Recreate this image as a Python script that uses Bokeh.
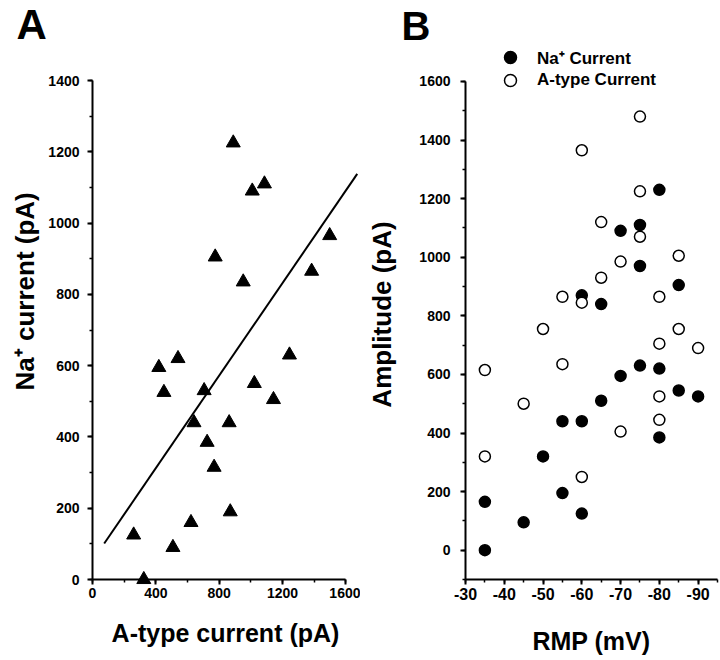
from bokeh.plotting import figure
from bokeh.layouts import row
from bokeh.models import Range1d, SingleIntervalTicker, Legend, LegendItem, Title
from bokeh.embed import file_html
from bokeh.resources import INLINE

FONT = "Liberation Sans"

# ---------------- Panel A data ----------------
a_type_current = [889, 1009, 1086, 1498, 775, 952, 1384, 419, 540, 451, 705, 641,
                  863, 724, 768, 870, 622, 260, 508, 324, 1022, 1143, 1244]
na_current = [1225, 1090, 1110, 965, 905, 835, 865, 595, 620, 525, 530, 440,
              440, 385, 315, 190, 160, 125, 90, 0, 550, 505, 630]
fit_x = [74, 1672]
fit_y = [101, 1138]

# ---------------- Panel B data ----------------
na_rmp = [-80, -70, -75, -75, -60, -65, -85, -75, -80, -70, -85, -90, -65, -55,
          -60, -80, -50, -35, -55, -45, -60, -35]
na_amp = [1230, 1090, 1110, 970, 870, 840, 905, 630, 620, 595, 545, 525, 510, 440,
          440, 385, 320, 165, 195, 95, 125, 0]
a_rmp = [-75, -60, -75, -65, -75, -70, -85, -65, -55, -60, -80, -50, -85, -80,
         -90, -35, -55, -45, -80, -80, -70, -35, -60]
a_amp = [1480, 1365, 1225, 1120, 1070, 985, 1005, 930, 865, 845, 865, 755, 755, 705,
         690, 615, 635, 500, 525, 445, 405, 320, 250]

rmp_ticks = [-30, -40, -50, -60, -70, -80, -90]
rmp_tick_labels = ["-30", "-40", "-50", "-60", "-70", "-80", "-90"]


def style_axes(p, xlab_size, ylab_size):
    for ax in (p.xaxis[0], p.yaxis[0]):
        ax.axis_line_width = 2
        ax.axis_line_color = "black"
        ax.major_tick_line_width = 2
        ax.major_tick_line_color = "black"
        ax.minor_tick_line_width = 1.5
        ax.minor_tick_line_color = "black"
        ax.major_tick_in = 0
        ax.major_tick_out = 5
        ax.minor_tick_in = 0
        ax.minor_tick_out = 3
        ax.major_label_text_font = FONT
        ax.major_label_text_font_style = "bold"
        ax.major_label_text_color = "black"
        ax.axis_label_text_font = FONT
        ax.axis_label_text_font_style = "bold"
        ax.axis_label_text_font_size = "25px"
        ax.axis_label_text_color = "black"
    p.xaxis[0].major_label_text_font_size = xlab_size
    p.yaxis[0].major_label_text_font_size = ylab_size
    p.xgrid.visible = False
    p.ygrid.visible = False
    p.outline_line_color = None


def panel_title(text, size, offset, standoff, valign="top", align="left"):
    return Title(text=text, align=align, offset=offset, standoff=standoff,
                 vertical_align=valign,
                 text_font=FONT, text_font_style="bold", text_font_size=size,
                 text_color="black")


# ---------------- Panel A ----------------
pa = figure(width=360, height=660, x_range=Range1d(0, 1680), y_range=Range1d(0, 1487),
            output_backend="svg", toolbar_location=None,
            title=panel_title("A", "42px", -76, 0),
            min_border_left=92, min_border_right=2, min_border_top=48, min_border_bottom=81)
style_axes(pa, "14px", "14px")
pa.xaxis.ticker = SingleIntervalTicker(interval=400, num_minor_ticks=2)
pa.yaxis.ticker = SingleIntervalTicker(interval=200, num_minor_ticks=2)
pa.xaxis.bounds = (0, 1600)
pa.yaxis.bounds = (0, 1400)
pa.xaxis.axis_label = "A-type current (pA)"
pa.xaxis.major_label_standoff = 3
pa.yaxis.major_label_standoff = 8
pa.xaxis.axis_label_standoff = 18
# y-axis title of panel A sits above the axis centre, as in the figure
pa.add_layout(panel_title("Na\u207a current (pA)", "26px", 189, 12, valign="bottom"), "left")

pa.line(fit_x, fit_y, line_color="black", line_width=2)
tri = pa.scatter(a_type_current, na_current, marker="triangle", size=14,
                 fill_color="black", line_color="black")
tri.level = "overlay"

# ---------------- Panel B ----------------
pb = figure(width=360, height=660, x_range=Range1d(-30, -95), y_range=Range1d(-100, 1709),
            output_backend="svg", toolbar_location=None,
            title=panel_title("B", "40px", -64, 0),
            min_border_left=105, min_border_right=3, min_border_top=48, min_border_bottom=81)
style_axes(pb, "16px", "14px")
pb.yaxis.axis_label_text_font_size = "26px"
pb.xaxis.ticker = SingleIntervalTicker(interval=10, num_minor_ticks=2)
pb.yaxis.ticker = SingleIntervalTicker(interval=200, num_minor_ticks=2)
pb.yaxis.bounds = (-100, 1600)
pb.xaxis.major_label_overrides = dict(zip(rmp_ticks, rmp_tick_labels))
pb.xaxis.axis_label = "RMP (mV)"
pb.yaxis.axis_label = "Amplitude (pA)"
pb.xaxis.major_label_standoff = 3
pb.yaxis.major_label_standoff = 10
pb.xaxis.axis_label_standoff = 24
pb.yaxis.axis_label_standoff = 19

r_na = pb.scatter(na_rmp, na_amp, marker="circle", size=11,
                  fill_color="black", line_color="black", line_width=1.5)
r_a = pb.scatter(a_rmp, a_amp, marker="circle", size=11,
                 fill_color="white", line_color="black", line_width=1.5)

for label, rend, vy in (("Na\u207a Current", r_na, 507), ("A-type Current", r_a, 484)):
    lg = Legend(items=[LegendItem(label=label, renderers=[rend])], location=(30, vy),
                glyph_width=30, glyph_height=30, label_height=30, label_standoff=12,
                padding=0, margin=0, spacing=0, border_line_color=None,
                background_fill_alpha=0, label_text_font=FONT,
                label_text_font_style="bold", label_text_font_size="17px",
                label_text_color="black")
    pb.add_layout(lg)

layout = row(pa, pb)
open("out.html", "w").write(file_html(layout, INLINE))
